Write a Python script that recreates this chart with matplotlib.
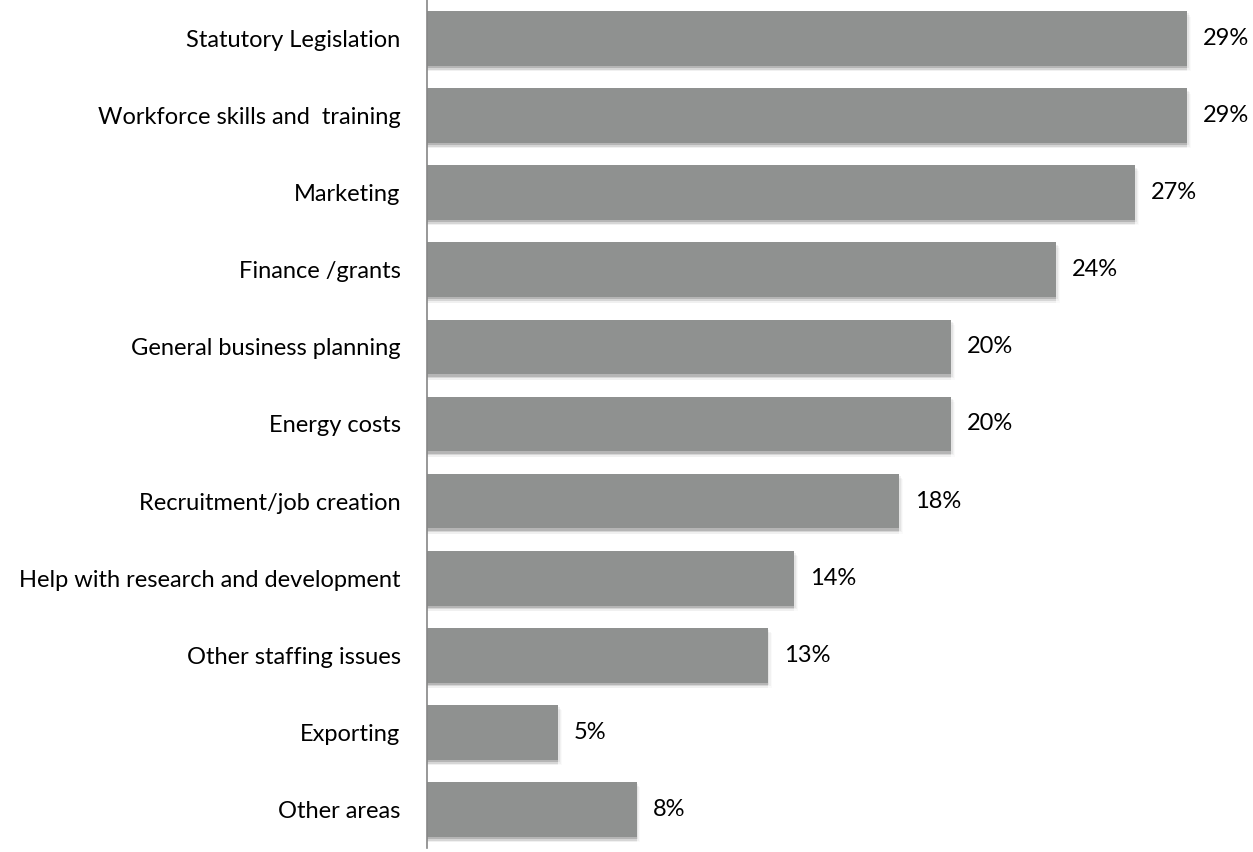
import matplotlib.pyplot as plt

categories = [
    "Statutory Legislation",
    "Workforce skills and  training",
    "Marketing",
    "Finance /grants",
    "General business planning",
    "Energy costs",
    "Recruitment/job creation",
    "Help with research and development",
    "Other staffing issues",
    "Exporting",
    "Other areas",
]
values = [29, 29, 27, 24, 20, 20, 18, 14, 13, 5, 8]

plt.rcParams["font.family"] = ["Lato", "DejaVu Sans"]

fig = plt.figure(figsize=(12.53, 8.52), dpi=100)
ax = fig.add_axes([427 / 1253, 4 / 852, 826 / 1253, 848 / 852])

ypos = list(range(len(categories)))
bar_h = 0.71

# soft drop shadow under each bar
for dx, dy, a in [(0.06, 0.03, 0.10), (0.10, 0.05, 0.07), (0.14, 0.07, 0.04)]:
    ax.barh([y + dy for y in ypos], values, height=bar_h, left=0,
            color="black", alpha=a, linewidth=0, zorder=1)
    ax.barh([y + dy for y in ypos], [v + dx for v in values], height=bar_h,
            color="black", alpha=a * 0.5, linewidth=0, zorder=1)

ax.barh(ypos, values, height=bar_h, color="#8f9190", linewidth=0, zorder=2)

for y, v in zip(ypos, values):
    ax.text(v + 0.6, y, f"{v}%", va="center", ha="left", fontsize=17,
            color="black")

ax.set_xlim(0, 31.5)
ax.set_ylim(len(categories) - 0.5, -0.5)
ax.set_yticks(ypos)
ax.set_yticklabels(categories, fontsize=17)
ax.tick_params(axis="y", length=0, pad=19)
ax.set_xticks([])

for side in ["top", "right", "bottom"]:
    ax.spines[side].set_visible(False)
ax.spines["left"].set_color("#868686")
ax.spines["left"].set_linewidth(1.2)
ax.spines["left"].set_zorder(3)

fig.savefig("out.png", dpi=100)
